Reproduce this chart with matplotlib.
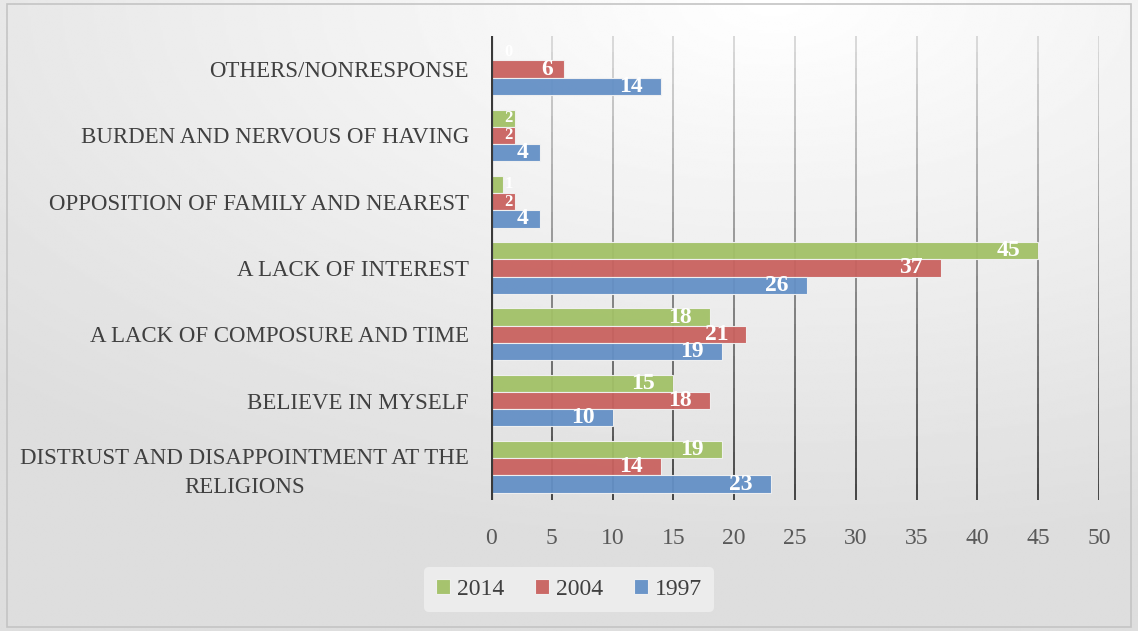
import numpy as np
import matplotlib
matplotlib.use("Agg")
import matplotlib.pyplot as plt
from matplotlib.patches import Rectangle

# Data (categories listed bottom -> top as matplotlib draws them)
categories = ["DISTRUST AND DISAPPOINTMENT AT THE\nRELIGIONS",
              "BELIEVE IN MYSELF",
              "A LACK OF COMPOSURE AND TIME",
              "A LACK OF INTEREST",
              "OPPOSITION OF FAMILY AND NEAREST",
              "BURDEN AND NERVOUS OF HAVING",
              "OTHERS/NONRESPONSE"]
v2014 = [19, 15, 18, 45, 1, 2, 0]
v2004 = [14, 18, 21, 37, 2, 2, 6]
v1997 = [23, 10, 19, 26, 4, 4, 14]
series_names = ["2014", "2004", "1997"]
x_ticks = [0, 5, 10, 15, 20, 25, 30, 35, 40, 45, 50]

colors = {"2014": "#a2c167", "2004": "#c9625f", "1997": "#6490c6"}
font = "Liberation Serif"

fig = plt.figure(figsize=(11.38, 6.31), dpi=100)

# background gradient
bg = fig.add_axes([0, 0, 1, 1], zorder=-10)
yy, xx = np.mgrid[0:1:300j, 0:1:500j]
d = np.sqrt(((xx - 0.68) * 1.0) ** 2 + ((yy - 0.0) * 1.1) ** 2)
shade = 1.0 - 0.13 * np.clip(d / 0.95, 0, 1)
bg.imshow(shade, cmap="gray", vmin=0, vmax=1, aspect="auto",
          extent=[0, 1, 1, 0], interpolation="bilinear")
bg.add_patch(Rectangle((0.006, 0.006), 0.988, 0.988, fill=False,
                       edgecolor="#c4c4c4", lw=1.2, transform=bg.transAxes))
bg.set_axis_off()

ax = fig.add_axes([0.4315, 0.2076, 0.5342, 0.7354])
ax.patch.set_alpha(0)

y = np.arange(len(categories))
h = 0.26
groups = [(v2014, "2014", h), (v2004, "2004", 0), (v1997, "1997", -h)]

# gradient gridlines
seg = np.linspace(-0.5, 6.5, 30)
for xt in x_ticks[1:]:
    for i in range(len(seg) - 1):
        t = i / (len(seg) - 2)
        g = 0.22 + 0.62 * t
        ax.plot([xt, xt], [seg[i], seg[i + 1]], color=(g, g, g), lw=1.3,
                zorder=0, solid_capstyle="butt")

for vals, name, off in groups:
    ax.barh(y + off, vals, height=h, color=colors[name], edgecolor="#f2f2f2",
            linewidth=0.8, alpha=0.95, label=name, zorder=2)
    for yi, v in zip(y, vals):
        if v > 2:
            xpos = v - (1.5 if v >= 10 else 0.9)
        else:
            xpos = 2.0 - 0.2
        ax.text(xpos, yi + off, str(v), ha="right", va="center",
                color="white", fontsize=17 if v > 2 else 12,
                fontweight="bold", family=font, zorder=3)

ax.axvline(0, color="#3a3a3a", lw=3, zorder=4)

ax.set_xlim(0, 50)
ax.set_ylim(-0.5, 6.5)
ax.set_xticks(x_ticks)
ax.set_xticklabels([str(t) for t in x_ticks], family=font, fontsize=17,
                   color="#595959")
ax.set_yticks(y)
ax.set_yticklabels(categories, family=font, fontsize=16.5, color="#404040",
                   multialignment="center", linespacing=1.45)
ax.tick_params(axis="y", length=0, pad=16)
ax.tick_params(axis="x", length=0, pad=20)
for s in ax.spines.values():
    s.set_visible(False)

leg = fig.legend(loc="center", bbox_to_anchor=(0.5, 0.066), ncol=3,
                 frameon=True, prop={"family": font, "size": 17},
                 handlelength=0.6, handleheight=0.6, handletextpad=0.3,
                 columnspacing=1.3, borderpad=0.5)
leg.get_frame().set_facecolor("#ececec")
leg.get_frame().set_edgecolor("none")
leg.get_frame().set_alpha(1)
for t in leg.get_texts():
    t.set_color("#404040")

fig.savefig("out.png", dpi=100)
